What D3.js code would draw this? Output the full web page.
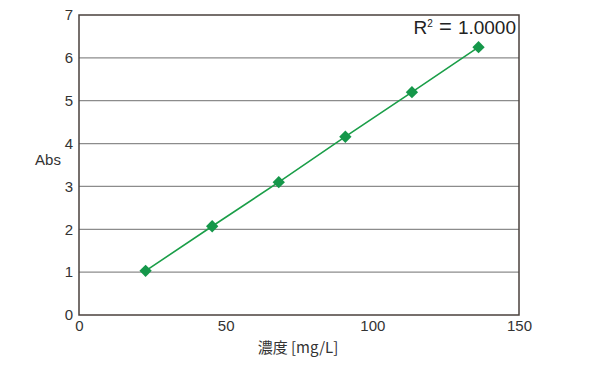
<!DOCTYPE html>
<html><head><meta charset="utf-8">
<script src="https://cdn.jsdelivr.net/npm/d3@7"></script>
<style>body{margin:0;background:#fff}</style>
</head><body>
<script>
const conc = [22.7, 45.4, 68.1, 90.8, 113.5, 136.2];
const absVals = [1.03, 2.07, 3.10, 4.16, 5.20, 6.25];
const xTicks = [0, 50, 100, 150];
const yTicks = [0, 1, 2, 3, 4, 5, 6, 7];
const xLabel = "濃度 [mg/L]";
const yLabel = "Abs";
const r2Label = "1.0000";

const W = 600, H = 366;
const m = {l: 79, r: 81, t: 15, b: 51};
const svg = d3.select("body").append("svg").attr("width", W).attr("height", H);
const font = "'Liberation Sans', Arial, sans-serif";
const x = d3.scaleLinear().domain([0, 150]).range([m.l, W - m.r]);
const y = d3.scaleLinear().domain([0, 7]).range([H - m.b, m.t]);

svg.append("g").selectAll("line").data(yTicks.filter(d => d > 0 && d < 7)).join("line")
  .attr("x1", x(0)).attr("x2", x(150)).attr("y1", d => y(d)).attr("y2", d => y(d))
  .attr("stroke", "#8c8c8c").attr("stroke-width", 1.2);

svg.append("rect").attr("x", x(0)).attr("y", y(7)).attr("width", x(150) - x(0)).attr("height", y(0) - y(7))
  .attr("fill", "none").attr("stroke", "#4a403c").attr("stroke-width", 1.5);

const xa = svg.append("g").attr("transform", `translate(0,${y(0)})`)
  .call(d3.axisBottom(x).tickValues(xTicks).tickFormat(d3.format("d")).tickSize(0).tickPadding(5));
const ya = svg.append("g").attr("transform", `translate(${x(0)},0)`)
  .call(d3.axisLeft(y).tickValues(yTicks).tickFormat(d3.format("d")).tickSize(0).tickPadding(6));
[xa, ya].forEach(a => {
  a.select(".domain").remove();
  a.selectAll("text").attr("font-family", font).attr("font-size", 15).attr("fill", "#333");
});

svg.append("path").datum(conc.map((c, i) => [c, absVals[i]]))
  .attr("d", d3.line().x(d => x(d[0])).y(d => y(d[1])))
  .attr("fill", "none").attr("stroke", "#1a9e48").attr("stroke-width", 1.6);

svg.append("g").selectAll("path").data(conc.map((c, i) => [c, absVals[i]])).join("path")
  .attr("d", d3.symbol(d3.symbolSquare, 76)())
  .attr("transform", d => `translate(${x(d[0])},${y(d[1])}) rotate(45)`)
  .attr("fill", "#15974a");

svg.append("text").attr("x", 298).attr("y", 353).attr("text-anchor", "middle")
  .attr("font-family", "'Noto Sans CJK JP', " + font).attr("font-size", 15).attr("fill", "#333").text(xLabel);
svg.append("text").attr("x", 48).attr("y", 165).attr("text-anchor", "middle")
  .attr("font-family", font).attr("font-size", 15).attr("fill", "#333").text(yLabel);

const t = svg.append("text").attr("x", 516).attr("y", 34).attr("text-anchor", "end")
  .attr("font-family", font).attr("font-size", 19).attr("fill", "#222");
t.append("tspan").text("R");
t.append("tspan").attr("font-size", 10).attr("dy", -7).text("2");
t.append("tspan").attr("dy", 7).attr("font-size", 22).text(" = ");
t.append("tspan").text(r2Label);
</script>
</body></html>
